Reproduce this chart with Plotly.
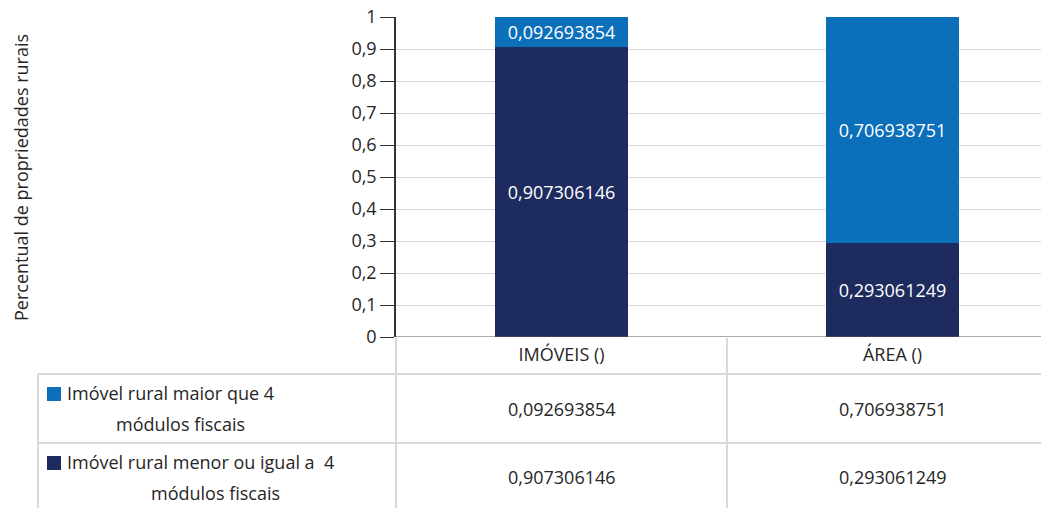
import plotly.graph_objects as go

categories = ["IMÓVEIS ()", "ÁREA ()"]
menor_igual_4 = [0.907306146, 0.293061249]
maior_4 = [0.092693854, 0.706938751]
series_names = ["Imóvel rural maior que 4<br>módulos fiscais",
                "Imóvel rural menor ou igual a  4<br>módulos fiscais"]
y_ticks = [0, 0.1, 0.2, 0.3, 0.4, 0.5, 0.6, 0.7, 0.8, 0.9, 1]
y_title = "Percentual de propriedades rurais"

C_LIGHT = "#0b6fba"
C_DARK = "#1e2b5e"
GRID = "#d9d9d9"
TXT = "#262626"
FONT = "Open Sans"
FS = 18

OFF = 8  # browser body margin
W, H = 1049 - OFF, 508 - OFF
ML, MT = 396 - OFF, 17 - OFF
MR = 0
MB = H - (337 - OFF)
PW = W - ML - MR
PH = H - MT - MB
cat_px = 331.0
x_range = [-0.5, -0.5 + PW / cat_px]


def fmt(v):
    return f"{v:.9f}".replace(".", ",")


def py(p):
    return (MT + PH - (p - OFF)) / PH


def px(p):
    return ((p - OFF) - ML) / PW


fig = go.Figure()
fig.add_trace(go.Bar(x=categories, y=menor_igual_4, marker_color=C_DARK, marker_line_width=0,
                     width=0.4, text=[fmt(v) for v in menor_igual_4], textposition="inside",
                     insidetextanchor="middle", textfont=dict(color="white", size=FS, family=FONT),
                     name="menor", showlegend=False))
fig.add_trace(go.Bar(x=categories, y=maior_4, marker_color=C_LIGHT, marker_line_width=0,
                     width=0.4, text=[fmt(v) for v in maior_4], textposition="inside",
                     insidetextanchor="middle", textfont=dict(color="white", size=FS, family=FONT),
                     name="maior", showlegend=False))

fig.update_layout(
    width=W, height=H, barmode="stack", separators=",.",
    margin=dict(l=ML, r=MR, t=MT, b=MB, autoexpand=False),
    plot_bgcolor="white", paper_bgcolor="white",
    font=dict(family=FONT, size=FS, color=TXT),
    uniformtext=dict(minsize=FS, mode="show"),
)
fig.update_xaxes(range=x_range, showgrid=False, ticks="", showline=False, automargin=False,
                 zeroline=False, tickfont=dict(size=FS, color=TXT), ticklabelstandoff=5)
fig.update_yaxes(range=[0, 1], tickvals=y_ticks, showgrid=True, gridcolor=GRID, gridwidth=1,
                 showline=True, linecolor="#333333", linewidth=1.5, ticks="outside",
                 ticklen=14, tickcolor="#333333", tickwidth=1.2, zeroline=False,
                 automargin=False, ticklabeloverflow="allow", tickfont=dict(size=FS, color=TXT))

shapes = []
shapes.append(dict(type="line", xref="paper", yref="y", x0=0, x1=1, y0=0, y1=0,
                   line=dict(color="#595959", width=1.2)))
for yp in [374, 443]:
    shapes.append(dict(type="line", xref="paper", yref="paper", x0=px(38), x1=1,
                       y0=py(yp), y1=py(yp), line=dict(color=GRID, width=2)))
shapes.append(dict(type="line", xref="paper", yref="paper", x0=px(38), x1=px(38),
                   y0=py(374), y1=py(515), line=dict(color=GRID, width=2)))
shapes.append(dict(type="line", xref="paper", yref="paper", x0=0, x1=0,
                   y0=py(338), y1=py(515), line=dict(color=GRID, width=2)))
shapes.append(dict(type="line", xref="x", yref="paper", x0=0.5, x1=0.5,
                   y0=py(338), y1=py(515), line=dict(color=GRID, width=2)))
for (y0, y1, c) in [(387, 401, C_LIGHT), (456, 470, C_DARK)]:
    shapes.append(dict(type="rect", xref="paper", yref="paper", x0=px(47), x1=px(61),
                       y0=py(y1), y1=py(y0), fillcolor=c, line=dict(width=0)))

ann = []
ann.append(dict(text=y_title, xref="paper", yref="paper", x=px(21), y=py(178), textangle=-90,
                showarrow=False, font=dict(size=FS, color=TXT), xanchor="center", yanchor="middle"))
# legend labels in table rows (two lines each)
line1_y = [393, 462]
line2_y = [424, 493]
line2_cx = [180, 215]
for name, y1, y2, cx in zip(series_names, line1_y, line2_y, line2_cx):
    l1, l2 = name.split("<br>")
    ann.append(dict(text=l1, xref="paper", yref="paper", x=px(65), y=py(y1), xanchor="left",
                    yanchor="middle", showarrow=False, font=dict(size=FS, color=TXT)))
    ann.append(dict(text=l2, xref="paper", yref="paper", x=px(cx), y=py(y2), xanchor="center",
                    yanchor="middle", showarrow=False, font=dict(size=FS, color=TXT)))
row_y = [409, 477]
for vals, yc in zip([maior_4, menor_igual_4], row_y):
    for c, v in zip(categories, vals):
        ann.append(dict(text=fmt(v), xref="x", yref="paper", x=c, y=py(yc), showarrow=False,
                        xanchor="center", yanchor="middle", font=dict(size=FS, color=TXT)))

fig.update_layout(shapes=shapes, annotations=ann)
fig.write_html("out.html")
